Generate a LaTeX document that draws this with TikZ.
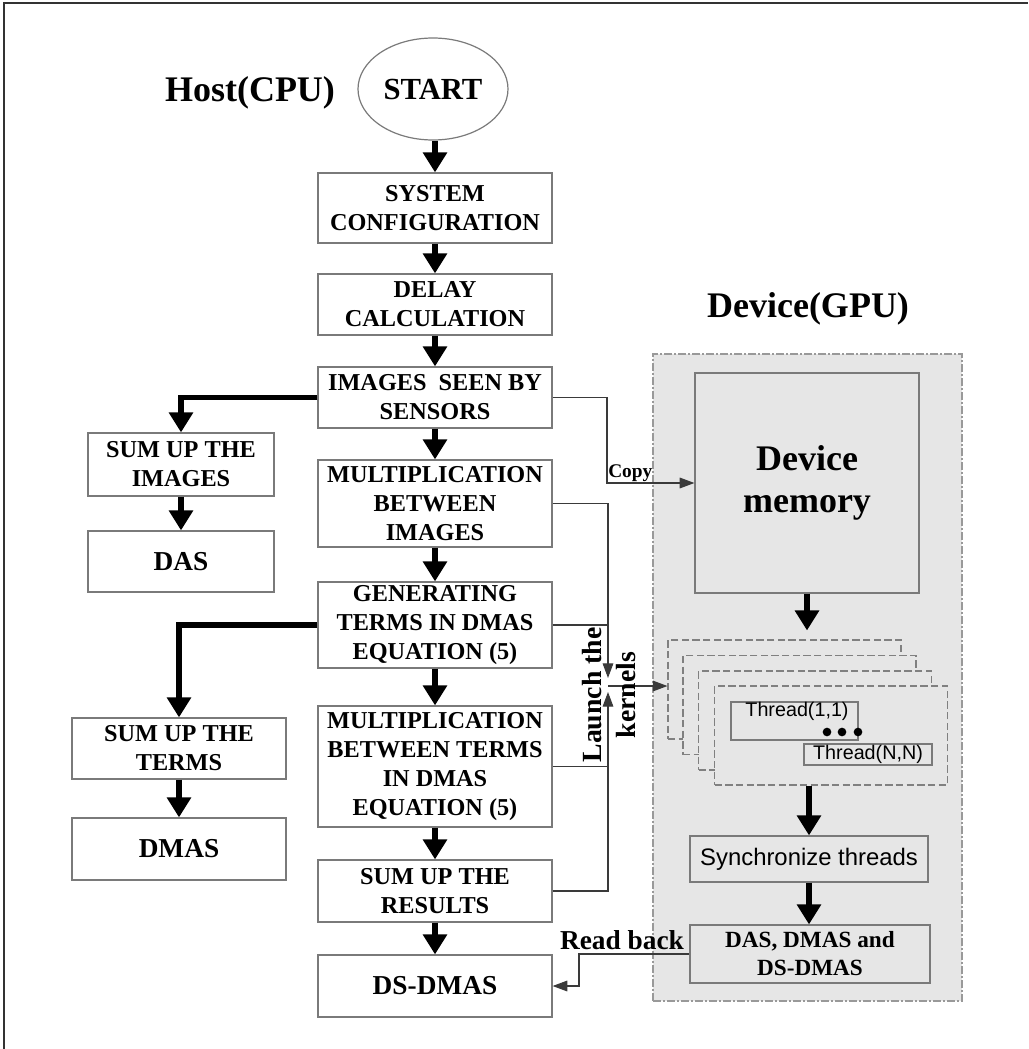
\documentclass[tikz,border=0pt]{standalone}
\usepackage{fontspec}
\setmainfont{Liberation Serif}
\newfontfamily\arialfont{Liberation Sans}
\usetikzlibrary{arrows.meta,calc,shapes.geometric}
\definecolor{gpubg}{HTML}{E6E6E6}
\definecolor{boxline}{HTML}{7A7A7A}
\definecolor{thinc}{HTML}{3A3A3A}
\tikzset{
  wh/.style 2 args={minimum width=#1*0.75pt, minimum height=#2*0.75pt},
  hbox/.style={draw=boxline, line width=0.9pt, fill=white, inner sep=0pt, align=center, font=\fontsize{18.2}{21.8}\selectfont\bfseries},
  bigtxt/.style={font=\fontsize{20.5}{24}\selectfont\bfseries},
  gbox/.style={draw=boxline, line width=0.9pt, fill=gpubg, inner sep=0pt, align=center},
  stackbox/.style={draw=gray, dash pattern=on 5.5pt off 2.5pt, line width=0.8pt, fill=gpubg, inner sep=0pt, wh={233}{99}},
  bigarrow/.style={-{Triangle[width=17.5pt,length=15pt]}, line width=4pt, draw=black},
  thinarrow/.style={-{Triangle[width=8pt,length=11pt]}, line width=0.8pt, draw=thinc},
  thinline/.style={line width=0.8pt, draw=thinc},
  titletxt/.style={font=\fontsize{27}{32}\selectfont\bfseries, anchor=base},
  thtxt/.style={font=\arialfont\fontsize{14.8}{17}\selectfont, inner sep=0pt},
  dot/.style={circle, fill=black, inner sep=0pt, minimum size=6.5pt}
}
\begin{document}
\begin{tikzpicture}[x=0.75pt,y=-0.75pt]
\useasboundingbox (0,0) rectangle (1028,1049);
\draw[line width=1.2pt, black!80] (4,1049) -- (4,3) -- (1028,3);

% GPU region
\node[draw=gray!80, dash pattern=on 6pt off 1.5pt on 1.5pt off 1.5pt, line width=0.8pt, fill=gpubg, wh={309}{647}, inner sep=0pt] (gpu) at (807.5,677.5) {};

% titles
\node[titletxt] (host) at (250,101) {Host(CPU)};
\node[titletxt] (devlbl) at (808,317) {Device(GPU)};

% host column
\node[draw=boxline, line width=0.9pt, ellipse, wh={150}{102}, inner sep=0pt, font=\fontsize{23}{27}\selectfont\bfseries] (start) at (433,89) {START};
\node[hbox, wh={234}{70}] (sys) at (435,208) {SYSTEM\\CONFIGURATION};
\node[hbox, wh={234}{61}] (delay) at (435,304.5) {DELAY\\CALCULATION};
\node[hbox, wh={234}{61}] (img) at (435,397.5) {IMAGES\ \ SEEN BY\\SENSORS};
\node[hbox, wh={234}{87}] (mimg) at (435,503.5) {MULTIPLICATION\\BETWEEN\\IMAGES};
\node[hbox, wh={234}{86}] (gen) at (435,625) {GENERATING\\TERMS IN DMAS\\EQUATION (5)};
\node[hbox, wh={234}{121}] (mterms) at (435,766.5) {MULTIPLICATION\\BETWEEN TERMS\\IN DMAS\\EQUATION (5)};
\node[hbox, wh={234}{62}] (results) at (435,891) {SUM UP THE\\RESULTS};
\node[hbox, bigtxt, wh={234}{62}] (dsdmas) at (435,986) {DS-DMAS};

% left column
\node[hbox, wh={186}{63}] (sumimg) at (181,464.5) {SUM UP THE\\IMAGES};
\node[hbox, bigtxt, wh={186}{61}] (das) at (181,561.5) {DAS};
\node[hbox, wh={214}{61}] (sumterms) at (179,748.5) {SUM UP THE\\TERMS};
\node[hbox, bigtxt, wh={214}{62}] (dmas) at (179,849) {DMAS};

% device
\node[gbox, wh={224}{220}, font=\fontsize{27}{32}\selectfont\bfseries] (devmem) at (807,483) {Device\\memory};
\node[stackbox] (stk1) at (784.5,689.5) {};
\node[stackbox] (stk2) at (799.5,705) {};
\node[stackbox] (stk3) at (815,720.5) {};
\node[stackbox] (stk4) at (831,735.5) {};
\node[draw=boxline, line width=0.8pt, wh={127}{38}, inner sep=0pt] (t11) at (794.5,721) {};
\node[thtxt] (t11txt) at (797,711) {Thread(1,1)};
\node[dot] (d1) at (827,732) {};
\node[dot] (d2) at (842,732) {};
\node[dot] (d3) at (858,732) {};
\node[draw=boxline, line width=0.8pt, wh={128}{21}, thtxt] (tnn) at (868,754.5) {Thread(N,N)};
\node[gbox, wh={238}{46}, font=\arialfont\fontsize{17.9}{21}\selectfont] (sync) at (809,859) {Synchronize threads};
\node[gbox, wh={240}{58}, font=\fontsize{17.4}{21}\selectfont\bfseries] (gpures) at (810,954) {DAS, DMAS and\\DS-DMAS};

% thick arrows
\draw[bigarrow] (sys.north |- start.south) -- (sys.north);
\draw[bigarrow] (sys) -- (delay);
\draw[bigarrow] (delay) -- (img);
\draw[bigarrow] (img) -- (mimg);
\draw[bigarrow] (mimg) -- (gen);
\draw[bigarrow] (gen) -- (mterms);
\draw[bigarrow] (mterms) -- (results);
\draw[bigarrow] (results) -- (dsdmas);
\draw[bigarrow] (sumimg) -- (das);
\draw[bigarrow] (sumterms) -- (dmas);
\draw[bigarrow] (img.west) -| (sumimg.north);
\draw[bigarrow] (gen.west) -| (sumterms.north);
\draw[bigarrow] (devmem.south) -- ($(devmem.south |- stk1.north)+(0,-9)$);
\draw[bigarrow] (sync.north |- stk4.south) -- (sync.north);
\draw[bigarrow] (sync.south) -- (sync.south |- gpures.north);

% thin connectors
\coordinate (cp) at (607,483);
\draw[thinarrow] (img.east) -| (cp) -- (devmem.west);
\node[font=\fontsize{14.5}{17}\selectfont\bfseries, anchor=base west, inner sep=0pt] (copy) at (608,477) {Copy};
\coordinate (lk) at (608,686);
\draw[thinarrow] (mimg.east) -| ($(lk)+(0,-8)$);
\draw[thinline] (gen.east) -- (gen.east -| lk);
\draw[thinline] (mterms.east) -- (mterms.east -| lk);
\draw[thinarrow] (results.east) -| ($(lk)+(0,6)$);
\draw[thinarrow] (lk) -- (lk -| stk1.west);
\node[rotate=90, align=center, inner sep=0pt, font=\fontsize{20.8}{24.8}\selectfont\bfseries] (launch) at (609,695) {Launch the\\kernels};
\coordinate (rb) at (579,986);
\draw[thinarrow] (gpures.west) -| (rb) -- (dsdmas.east);
\node[font=\fontsize{20.5}{24}\selectfont\bfseries, anchor=base] (readback) at (622,949) {Read back};
\end{tikzpicture}
\end{document}
